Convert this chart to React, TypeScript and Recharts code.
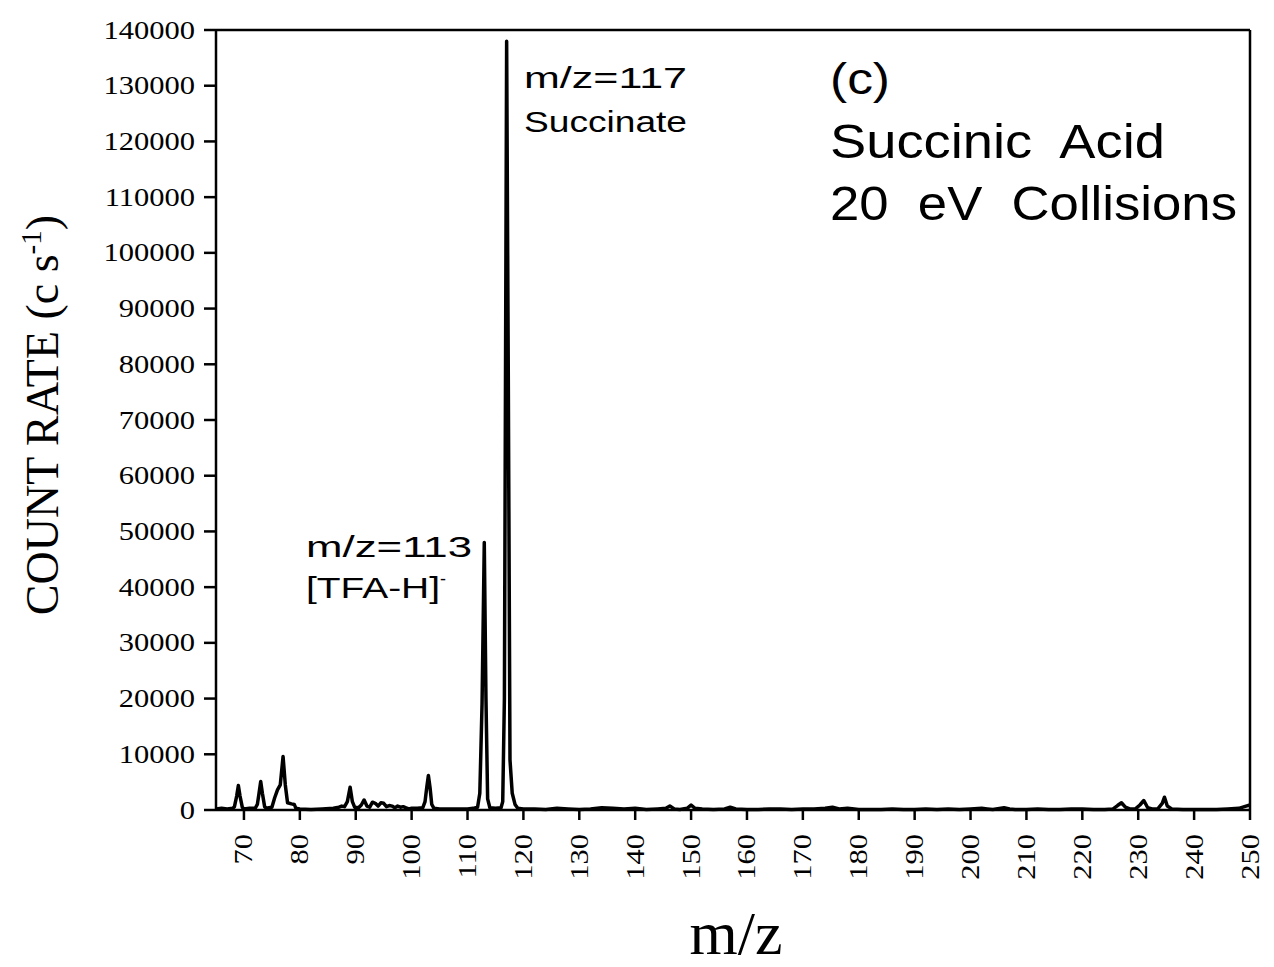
import React from 'react';
import { LineChart, Line, XAxis, YAxis, ReferenceLine } from 'recharts';

const mzValues = [
  65, 66, 67, 68, 68.3, 68.7, 69, 69.3, 69.7, 70, 71, 72, 72.4, 72.7, 73, 73.3, 73.7, 74,
  75, 75.5, 76, 76.5, 77, 77.4, 77.8, 78.5, 79, 79.3, 80, 82, 84, 86, 87, 87.5, 88, 88.5,
  89, 89.4, 89.8, 90.5, 91, 91.5, 92, 92.5, 93, 93.5, 94, 94.5, 95, 95.5, 96, 96.5, 97,
  97.5, 98, 98.5, 99, 99.5, 100, 101, 102, 102.4, 102.7, 103, 103.3, 103.6, 104, 105, 107,
  109, 110, 111, 111.8, 112.2, 112.6, 113, 113.3, 113.6, 114, 115, 116, 116.3, 116.6, 117,
  117.3, 117.6, 118, 118.5, 119, 120, 122, 124, 126, 128, 130, 132, 134, 136, 138, 140, 142,
  144, 145.5, 146.2, 147, 148, 149.3, 150, 150.7, 152, 154, 156, 157, 158, 160, 162, 164,
  166, 168, 170, 172, 174, 175.3, 176.5, 178, 180, 182, 184, 186, 188, 190, 192, 194, 196,
  198, 200, 202, 203, 204, 206, 207, 208, 210, 212, 214, 216, 218, 220, 222, 224, 225.5,
  226.3, 227, 227.7, 228.5, 229.5, 230.3, 231, 231.7, 232.5, 233.5, 234.3, 234.7, 235.2,
  236, 238, 240, 242, 244, 246, 248, 249, 250,
];

// count rate (c/s) at each m/z above
const countRates = [
  200, 300, 200, 300, 600, 2500, 4400, 2500, 500, 200, 300, 300, 1000, 3000, 5100, 3000, 600, 300,
  500, 2200, 3600, 4500, 9600, 4500, 1300, 1100, 1000, 300, 200, 100, 200, 300, 500, 700, 600, 1500,
  4100, 1500, 500, 400, 900, 1800, 700, 500, 1400, 1200, 700, 1300, 1200, 600, 800, 700, 400,
  700, 500, 600, 400, 200, 300, 300, 400, 1500, 4000, 6200, 4000, 1000, 300, 200, 200,
  200, 200, 300, 500, 3000, 19000, 48000, 20000, 2000, 400, 300, 400, 1500, 20000, 138000,
  77000, 9000, 3000, 1000, 300, 200, 200, 100, 300, 200, 100, 200, 400, 300, 200, 300, 100,
  200, 300, 700, 200, 100, 300, 900, 300, 200, 100, 200, 500, 200, 100, 100, 200,
  200, 100, 200, 200, 300, 500, 200, 300, 100, 100, 100, 200, 100, 100, 200, 100, 200,
  100, 200, 300, 200, 100, 400, 200, 100, 100, 200, 100, 100, 200, 200, 100, 100, 200,
  800, 1300, 500, 200, 200, 900, 1700, 400, 200, 200, 1200, 2300, 700,
  200, 100, 100, 100, 100, 200, 300, 600, 900,
];

const xTicks = [70, 80, 90, 100, 110, 120, 130, 140, 150, 160, 170, 180, 190, 200, 210, 220, 230, 240, 250];
const yTicks = [0, 10000, 20000, 30000, 40000, 50000, 60000, 70000, 80000, 90000, 100000, 110000, 120000, 130000, 140000];

const data = mzValues.map((mz, i) => ({ mz, count: countRates[i] }));

const SERIF = '"Liberation Serif", "Times New Roman", serif';
const SANS = '"Liberation Sans", Arial, sans-serif';

const YTick = (props: any) => {
  const { x, y, payload } = props;
  return (
    <text
      transform={`translate(${x - 7},${y}) scale(1.22,1)`}
      textAnchor="end"
      dominantBaseline="central"
      fontFamily={SERIF}
      fontSize={25}
      fill="#000"
    >
      {payload.value}
    </text>
  );
};

const XTick = (props: any) => {
  const { x, y, payload } = props;
  return (
    <text
      transform={`translate(${x},${y + 12}) rotate(-90) scale(1.22,1)`}
      textAnchor="end"
      dominantBaseline="central"
      fontFamily={SERIF}
      fontSize={25}
      fill="#000"
    >
      {payload.value}
    </text>
  );
};

const App = () => {
  return (
    <div style={{ position: 'relative', width: 1258, height: 959 }}>
      <LineChart
        width={1258}
        height={959}
        data={data}
        margin={{ top: 22, right: 16, left: 0, bottom: 0 }}
      >
        <XAxis
          dataKey="mz"
          type="number"
          domain={[65, 250]}
          allowDataOverflow
          ticks={xTicks}
          interval={0}
          height={157}
          tickSize={10}
          stroke="#000"
          strokeWidth={2.5}
          tick={<XTick />}
        />
        <YAxis
          type="number"
          domain={[0, 140000]}
          ticks={yTicks}
          interval={0}
          width={208}
          tickSize={12}
          stroke="#000"
          strokeWidth={2.5}
          tick={<YTick />}
        />
        <ReferenceLine y={140000} stroke="#000" strokeWidth={2.5} />
        <ReferenceLine x={250} stroke="#000" strokeWidth={2.5} />
        <Line
          type="linear"
          dataKey="count"
          stroke="#000"
          strokeWidth={3.5}
          strokeLinejoin="round"
          dot={false}
          isAnimationActive={false}
        />
      </LineChart>
      <svg
        width={1258}
        height={959}
        style={{ position: 'absolute', left: 0, top: 0, pointerEvents: 'none', overflow: 'visible' }}
      >
        <g fontFamily={SANS} fill="#000">
          <text x={516} y={80} fontSize={30} textLength={163} lengthAdjust="spacingAndGlyphs">m/z=117</text>
          <text x={516} y={124} fontSize={30} textLength={163} lengthAdjust="spacingAndGlyphs">Succinate</text>
          <text x={298} y={549} fontSize={30} textLength={166} lengthAdjust="spacingAndGlyphs">m/z=113</text>
          <text x={298} y={590} fontSize={30}>
            <tspan textLength={134} lengthAdjust="spacingAndGlyphs">[TFA-H]</tspan>
            <tspan dy={-13} fontSize={18}>-</tspan>
          </text>
          <text x={822} y={86} fontSize={44} textLength={60} lengthAdjust="spacingAndGlyphs">(c)</text>
          <text x={822} y={150} fontSize={48} textLength={335} lengthAdjust="spacingAndGlyphs" xmlSpace="preserve">Succinic  Acid</text>
          <text x={822} y={212} fontSize={48} textLength={407} lengthAdjust="spacingAndGlyphs" xmlSpace="preserve">20  eV  Collisions</text>
        </g>
        <text x={728} y={946} textAnchor="middle" fontFamily={SERIF} fontSize={62} fill="#000">m/z</text>
        <text
          transform="translate(50,407) rotate(-90)"
          textAnchor="middle"
          fontFamily={SERIF}
          fontSize={46}
          fill="#000"
        >
          COUNT RATE (c s<tspan dy={-17} fontSize={29}>-1</tspan><tspan dy={17}>)</tspan>
        </text>
      </svg>
    </div>
  );
};

export default App;
